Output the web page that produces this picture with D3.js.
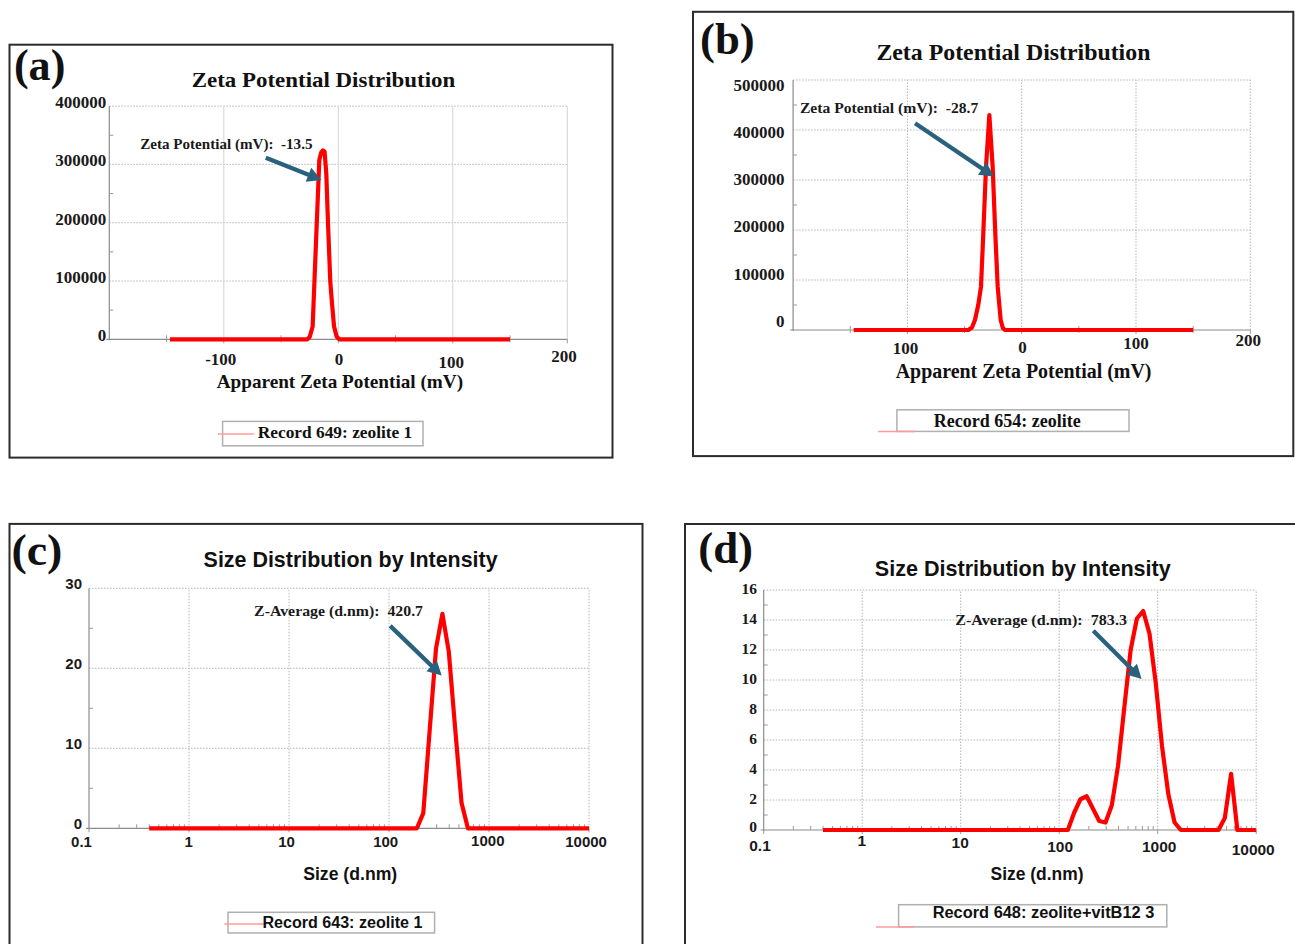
<!DOCTYPE html>
<html><head><meta charset="utf-8">
<script src="https://cdn.jsdelivr.net/npm/d3@7"></script>
<style>
body{margin:0;background:#fff}
svg{display:block}
text{white-space:pre}
</style>
</head><body>
<svg id="chart" width="1295" height="944"></svg>
<script>
// ---------------- DATA ----------------
// (a) Zeta potential distribution, Record 649: zeolite 1
const zetaA_mV     = [-147, -27, -25, -22.4, -19.5, -16.6, -15, -13.5, -12, -10.5, -9, -7, -5.5, -3.7, -1.4, 0.9, 150];
const zetaA_counts = [0, 0, 4000, 22000, 165000, 307000, 320000, 324000, 322000, 285000, 199000, 99000, 62000, 22000, 4500, 0, 0];
// (b) Zeta potential distribution, Record 654: zeolite
const zetaB_mV     = [-147, -46.7, -43.5, -40.9, -38, -35.6, -33.6, -31.2, -28.3, -25.4, -23.1, -21, -18.4, -16.5, -14.6, 150];
const zetaB_counts = [0, 0, 5000, 20000, 50000, 86600, 193400, 326600, 430000, 326600, 193400, 86600, 20000, 4000, 0, 0];
// (c) Size distribution by intensity, Record 643: zeolite 1
const sizeC_nm        = [0.4, 190.1, 220.2, 255.0, 295.3, 342.0, 396.1, 458.7, 531.2, 615.1, 10000];
const sizeC_intensity = [0, 0, 1.9, 12.2, 22.5, 26.8, 22.1, 12.5, 3.2, 0, 0];
// (d) Size distribution by intensity, Record 648: zeolite+vitB12 3
const sizeD_nm        = [0.4, 122.4, 141.8, 164.2, 190.1, 220.2, 255.0, 295.3, 342.0, 396.1, 458.7, 531.2, 615.1, 712.4, 825.0, 955.4, 1106, 1281, 1484, 1718, 4145, 4801, 5560, 6439, 10000];
const sizeD_intensity = [0, 0, 1.15, 2.05, 2.25, 1.42, 0.6, 0.5, 1.65, 4.3, 8.2, 12.0, 14.1, 14.6, 13.1, 9.8, 5.6, 2.4, 0.5, 0, 0, 0.8, 3.75, 0, 0];

// tick values / labels
const zetaXTicks       = [-100, 0, 100, 200];
const zetaXTickLabelsA = ["-100", "0", "100", "200"];
const zetaXTickLabelsB = ["100", "0", "100", "200"];
const zetaYTicksA      = [0, 100000, 200000, 300000, 400000];
const zetaYTicksB      = [0, 100000, 200000, 300000, 400000, 500000];
const sizeXTicks       = [0.1, 1, 10, 100, 1000, 10000];
const sizeXTickLabels  = ["0.1", "1", "10", "100", "1000", "10000"];
const sizeYTicksC      = [0, 10, 20, 30];
const sizeYTicksD      = [0, 2, 4, 6, 8, 10, 12, 14, 16];

// texts
const panelLetters = ["(a)", "(b)", "(c)", "(d)"];
const panelTitles  = ["Zeta Potential Distribution", "Zeta Potential Distribution", "Size Distribution by Intensity", "Size Distribution by Intensity"];
const axisTitles   = ["Apparent Zeta Potential (mV)", "Apparent Zeta Potential (mV)", "Size (d.nm)", "Size (d.nm)"];
const legendTexts  = ["Record 649: zeolite 1", "Record 654: zeolite", "Record 643: zeolite 1", "Record 648: zeolite+vitB12 3"];
const noteTexts    = ["Zeta Potential (mV):  -13.5", "Zeta Potential (mV):  -28.7", "Z-Average (d.nm):  420.7", "Z-Average (d.nm):  783.3"];

// ---------------- STYLE / LAYOUT ----------------
const SERIF = "'Liberation Serif','Times New Roman',Times,serif";
const SANS  = "'Liberation Sans',Arial,Helvetica,sans-serif";
const RED = "#ff0000";
const ARROW = "#2a617c";

const svg = d3.select("#chart");
svg.append("rect").attr("width", 1295).attr("height", 944).attr("fill", "#fff");

const panels = [
  { // (a)
    series: [zetaA_mV, zetaA_counts], log: false,
    frame: [9.5, 44.7, 612.5, 457.6],
    xDomain: [-200, 200], xRange: [109.3, 567.3],
    yDomain: [0, 400000], yRange: [339.3, 106.1],
    xTicks: zetaXTicks, xLabels: zetaXTickLabelsA, yTicks: zetaYTicksA,
    xMinor: [-150, -50, 50, 150], yMinor: [50000, 150000, 250000, 350000],
    vGridSolid: true,
    tickFont: SERIF, tickSize: 17, yTickFont: SERIF, yTickSize: 17,
    yLabelRight: 106.2, yLabelBase: (y, v) => y(v) + 1.8,
    xLabelDx: [-3, 0.7, -1.6, -3.3], xLabelBase: [364.5, 364.5, 367.8, 362.2],
    letter: {x: 13.9, y: 80, len: 51.5, size: 44},
    title: {x: 323.5, y: 86.7, len: 263.5, size: 22, font: SERIF},
    xTitle: {x: 339.9, y: 388, len: 246.4, size: 19.5, font: SERIF},
    legend: {box: [222.6, 421.4, 423, 445.8], line: [218, 253.7, 434], tx: 257.8, ty: 437.5, len: 154.5, size: 17, font: SERIF},
    note: {x: -173, y: 325700, len: 172.3, size: 15},
    arrow: {from: [-63.3, 311500], to: [-14.7, 273200]}
  },
  { // (b)
    series: [zetaB_mV, zetaB_counts], log: false,
    frame: [693, 11.8, 1293.3, 456.1],
    xDomain: [-200, 200], xRange: [793.1, 1250.3],
    yDomain: [0, 500000], yRange: [330, 80],
    xTicks: zetaXTicks, xLabels: zetaXTickLabelsB, yTicks: zetaYTicksB,
    xMinor: [-150, -50, 50, 150], yMinor: [50000, 150000, 250000, 350000, 450000],
    vGridSolid: false,
    tickFont: SERIF, tickSize: 17, yTickFont: SERIF, yTickSize: 17,
    yLabelRight: 784.5, yLabelBase: (y, v) => d3.scaleLinear().domain([0, 500000]).range([321, 85])(v) + 5.8,
    xLabelDx: [-2, 0.8, 0, -2], xLabelBase: [354.3, 352.6, 349, 345.7],
    letter: {x: 700, y: 54, len: 54.6, size: 44},
    title: {x: 1013.4, y: 59.7, len: 274, size: 23, font: SERIF},
    xTitle: {x: 1023.6, y: 378, len: 255.8, size: 20, font: SERIF},
    legend: {box: [896.9, 409.8, 1129, 431.4], line: [878.3, 915, 431.4], tx: 933.7, ty: 427, len: 147, size: 18, font: SERIF},
    note: {x: -194, y: 435000, len: 178.3, size: 15.5},
    arrow: {from: [-93.3, 413600], to: [-24.4, 307200]}
  },
  { // (c)
    series: [sizeC_nm, sizeC_intensity], log: true,
    frame: [9.5, 523.9, 642.5, 970],
    xDomain: [0.1, 10000], xRange: [89, 589],
    yDomain: [0, 30], yRange: [828.3, 588.3],
    xTicks: sizeXTicks, xLabels: sizeXTickLabels, yTicks: sizeYTicksC,
    xMinor: null, yMinor: [5, 15, 25],
    vGridSolid: false,
    tickFont: SANS, tickSize: 15, yTickFont: SANS, yTickSize: 15,
    yLabelRight: 82, yLabelBase: (y, v) => y(v) + 0.4,
    xLabelDx: [-7.5, -0.4, -2.5, -3.3, -1.2, -2.9], xLabelBase: [847.4, 847.4, 847.4, 847, 846, 847.4],
    letter: {x: 11.4, y: 564.7, len: 51, size: 44},
    title: {x: 350.6, y: 567, len: 294, size: 21.5, font: SANS},
    xTitle: {x: 350.2, y: 880, len: 94, size: 17.5, font: SANS},
    legend: {box: [228, 912.3, 434.6, 932.9], line: [224.3, 266.6, 923.9], tx: 262.4, ty: 928, len: 160, size: 16, font: SANS},
    note: {x: 4.48, y: 26.6, len: 168.9, size: 15},
    arrow: {from: [102.8, 25.3], to: [336.5, 19.1]}
  },
  { // (d)
    series: [sizeD_nm, sizeD_intensity], log: true,
    frame: [685, 524, 1310, 970],
    xDomain: [0.1, 10000], xRange: [763.7, 1256.2],
    yDomain: [0, 16], yRange: [830, 590],
    xTicks: sizeXTicks, xLabels: sizeXTickLabels, yTicks: sizeYTicksD,
    xMinor: null, yMinor: [1, 3, 5, 7, 9, 11, 13, 15],
    vGridSolid: false,
    tickFont: SANS, tickSize: 15.5, yTickFont: SERIF, yTickSize: 15.5,
    yLabelRight: 757.1, yLabelBase: (y, v) => y(v) + (v === 0 ? 2 : 4.2),
    xLabelDx: [-3.7, -0.5, -0.5, 1, 1.5, -3], xLabelBase: [851, 846, 848, 852, 852, 855.3],
    letter: {x: 698.2, y: 563, len: 54.9, size: 44},
    title: {x: 1022.75, y: 576, len: 296, size: 21.5, font: SANS},
    xTitle: {x: 1037, y: 879.5, len: 93, size: 17.5, font: SANS},
    legend: {box: [898.6, 904.7, 1166.8, 926.9], line: [875.9, 914, 926.9], tx: 932.7, ty: 918, len: 221.6, size: 16, font: SANS},
    note: {x: 8.81, y: 13.7, len: 171.7, size: 15},
    arrow: {from: [221.8, 13.28], to: [686.4, 10.07]}
  }
];

panels.forEach((p, i) => {
  const g = svg.append("g");
  const x = (p.log ? d3.scaleLog() : d3.scaleLinear()).domain(p.xDomain).range(p.xRange);
  const y = d3.scaleLinear().domain(p.yDomain).range(p.yRange);
  const x0 = p.xRange[0], x1 = p.xRange[1], yb = y(0), yt = y(p.yDomain[1]);

  // frame
  g.append("rect")
    .attr("x", p.frame[0]).attr("y", p.frame[1])
    .attr("width", p.frame[2] - p.frame[0]).attr("height", p.frame[3] - p.frame[1])
    .attr("fill", "none").attr("stroke", "#2b2b2b").attr("stroke-width", 2);

  // grid: horizontal
  g.append("g").selectAll("line").data(p.yTicks.filter(v => v !== 0)).join("line")
    .attr("x1", x0).attr("x2", x1).attr("y1", d => y(d)).attr("y2", d => y(d))
    .attr("stroke", "#b5b5b5").attr("stroke-width", 1).attr("stroke-dasharray", "1.5,1.5");
  // grid: vertical
  const vg = (p.log ? p.xTicks.slice(1) : p.xTicks);
  g.append("g").selectAll("line").data(vg).join("line")
    .attr("x1", d => x(d)).attr("x2", d => x(d)).attr("y1", yb).attr("y2", yt)
    .attr("stroke", p.vGridSolid ? "#d4d4d4" : "#b5b5b5").attr("stroke-width", 1)
    .attr("stroke-dasharray", p.vGridSolid ? null : "1.5,1.5");

  // axes lines
  g.append("line").attr("x1", x0).attr("x2", x0).attr("y1", yb + 1).attr("y2", yt)
    .attr("stroke", "#8c8c8c").attr("stroke-width", 1.2);
  g.append("line").attr("x1", x0 - 3).attr("x2", x1).attr("y1", yb).attr("y2", yb)
    .attr("stroke", "#8c8c8c").attr("stroke-width", 1.2);

  // minor ticks
  g.append("g").selectAll("line").data(p.yMinor).join("line")
    .attr("x1", x0).attr("x2", x0 + 4).attr("y1", d => y(d)).attr("y2", d => y(d))
    .attr("stroke", "#999").attr("stroke-width", 1);
  let xm = p.xMinor;
  if (p.log) {
    xm = [];
    for (let e = -1; e < 4; e++) for (let k = 2; k <= 9; k++) xm.push(k * Math.pow(10, e));
  }
  g.append("g").selectAll("line").data(xm).join("line")
    .attr("x1", d => x(d)).attr("x2", d => x(d)).attr("y1", yb - 4).attr("y2", p.log ? yb : yb + 3)
    .attr("stroke", "#999").attr("stroke-width", 1);
  g.append("g").selectAll("line").data(p.xTicks).join("line")
    .attr("x1", d => x(d)).attr("x2", d => x(d)).attr("y1", yb).attr("y2", yb + 4)
    .attr("stroke", "#999").attr("stroke-width", 1);

  // tick labels
  g.append("g").selectAll("text").data(p.yTicks).join("text")
    .attr("x", p.yLabelRight).attr("y", d => p.yLabelBase(y, d))
    .attr("text-anchor", "end").attr("font-family", p.yTickFont).attr("font-weight", "bold")
    .attr("font-size", p.yTickSize).attr("fill", "#1a1a1a")
    .text(d => d3.format("d")(d));
  g.append("g").selectAll("text").data(p.xTicks).join("text")
    .attr("x", (d, j) => x(d) + p.xLabelDx[j]).attr("y", (d, j) => p.xLabelBase[j])
    .attr("text-anchor", "middle").attr("font-family", p.tickFont).attr("font-weight", "bold")
    .attr("font-size", p.tickSize).attr("fill", "#1a1a1a")
    .text((d, j) => p.xLabels[j]);

  // curve
  const pts = p.series[0].map((v, j) => [v, p.series[1][j]]);
  g.append("path").datum(pts)
    .attr("d", d3.line().x(d => x(d[0])).y(d => y(d[1])))
    .attr("fill", "none").attr("stroke", RED).attr("stroke-width", 4.2)
    .attr("stroke-linejoin", "round").attr("stroke-linecap", "butt");

  // panel letter
  g.append("text").attr("x", p.letter.x).attr("y", p.letter.y)
    .attr("font-family", SERIF).attr("font-weight", "bold").attr("font-size", p.letter.size)
    .attr("textLength", p.letter.len).attr("lengthAdjust", "spacingAndGlyphs")
    .attr("fill", "#111").text(panelLetters[i]);
  // title
  g.append("text").attr("x", p.title.x).attr("y", p.title.y).attr("text-anchor", "middle")
    .attr("font-family", p.title.font).attr("font-weight", "bold").attr("font-size", p.title.size)
    .attr("textLength", p.title.len).attr("lengthAdjust", "spacingAndGlyphs")
    .attr("fill", "#111").text(panelTitles[i]);
  // x title
  g.append("text").attr("x", p.xTitle.x).attr("y", p.xTitle.y).attr("text-anchor", "middle")
    .attr("font-family", p.xTitle.font).attr("font-weight", "bold").attr("font-size", p.xTitle.size)
    .attr("textLength", p.xTitle.len).attr("lengthAdjust", "spacingAndGlyphs")
    .attr("fill", "#111").text(axisTitles[i]);

  // legend
  const L = p.legend;
  g.append("rect").attr("x", L.box[0]).attr("y", L.box[1])
    .attr("width", L.box[2] - L.box[0]).attr("height", L.box[3] - L.box[1])
    .attr("fill", "#fff").attr("stroke", "#b0b0b0").attr("stroke-width", 1.5);
  g.append("line").attr("x1", L.line[0]).attr("x2", L.line[1]).attr("y1", L.line[2]).attr("y2", L.line[2])
    .attr("stroke", "#ff9a9a").attr("stroke-width", 1.5);
  g.append("text").attr("x", L.tx).attr("y", L.ty)
    .attr("font-family", L.font).attr("font-weight", "bold").attr("font-size", L.size)
    .attr("textLength", L.len).attr("lengthAdjust", "spacingAndGlyphs")
    .attr("fill", "#111").text(legendTexts[i]);

  // annotation
  g.append("text").attr("x", x(p.note.x)).attr("y", y(p.note.y))
    .attr("font-family", SERIF).attr("font-weight", "bold").attr("font-size", p.note.size)
    .attr("textLength", p.note.len).attr("lengthAdjust", "spacingAndGlyphs")
    .attr("fill", "#1a1a1a").text(noteTexts[i]);
  const ax0 = x(p.arrow.from[0]), ay0 = y(p.arrow.from[1]);
  const ax1 = x(p.arrow.to[0]), ay1 = y(p.arrow.to[1]);
  const dx = ax1 - ax0, dy = ay1 - ay0, len = Math.hypot(dx, dy);
  const ux = dx / len, uy = dy / len, nx = -uy, ny = ux;
  const HL = 14, HW = 7.5;
  const bx = ax1 - ux * HL, by = ay1 - uy * HL;
  g.append("line").attr("x1", ax0).attr("y1", ay0).attr("x2", bx + ux * 2).attr("y2", by + uy * 2)
    .attr("stroke", ARROW).attr("stroke-width", 4.3);
  g.append("polygon")
    .attr("points", [[ax1, ay1], [bx + nx * HW, by + ny * HW], [bx - nx * HW, by - ny * HW]].map(q => q.join(",")).join(" "))
    .attr("fill", ARROW);
});
</script>
</body></html>
